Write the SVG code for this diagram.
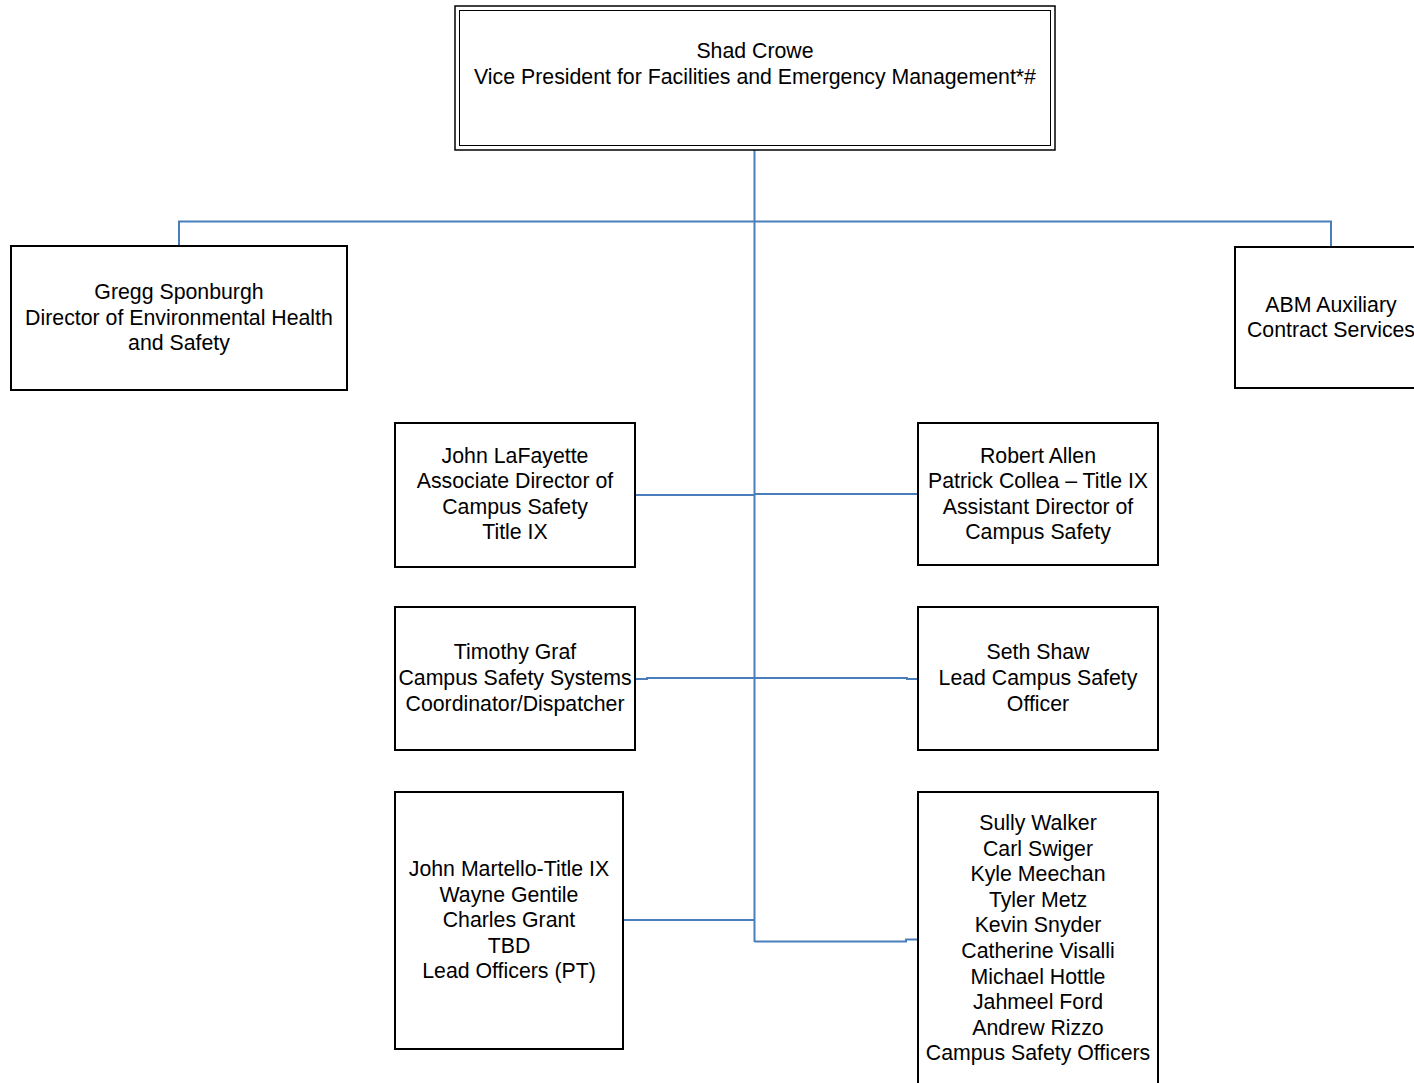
<svg xmlns="http://www.w3.org/2000/svg" width="1414" height="1083" viewBox="0 0 1414 1083">
<style>
.box{fill:#fff;stroke:#000;stroke-width:2}
.t{font-family:"Liberation Sans",Arial,sans-serif;font-size:21.3px;fill:#000;text-anchor:middle}
.c{fill:none;stroke:#4a7ebb;stroke-width:2}
</style>
<rect width="1414" height="1083" fill="#fff"/>
<g id="connectors">
<path class="c" d="M754.5,150 V942"/>
<path class="c" d="M179,246 V221.5 H1331 V247"/>
<path class="c" d="M635,495 H754.5 M754.5,494 H918"/>
<path class="c" d="M635,679 H647 V678 H907 V679 H918"/>
<path class="c" d="M623,920 H754.5"/>
<path class="c" d="M754.5,941.5 H906 V939.5 H918"/>
</g>
<g id="n-shad">
<rect x="455" y="6" width="600" height="144" fill="#fff" stroke="#000" stroke-width="1.5"/>
<rect x="459.5" y="10.5" width="591" height="135" fill="none" stroke="#000" stroke-width="1"/>
<text class="t" x="755" y="58">Shad Crowe</text>
<text class="t" x="755" y="84">Vice President for Facilities and Emergency Management*#</text>
</g>
<g id="n-gregg">
<rect class="box" x="11" y="246" width="336" height="144"/>
<text class="t" x="179" y="299">Gregg Sponburgh</text>
<text class="t" x="179" y="325">Director of Environmental Health</text>
<text class="t" x="179" y="350">and Safety</text>
</g>
<g id="n-abm">
<rect class="box" x="1235" y="247" width="200" height="141"/>
<text class="t" x="1331" y="312">ABM Auxiliary</text>
<text class="t" x="1331" y="337">Contract Services</text>
</g>
<g id="n-lafayette">
<rect class="box" x="395" y="423" width="240" height="144"/>
<text class="t" x="515" y="463">John LaFayette</text>
<text class="t" x="515" y="488">Associate Director of</text>
<text class="t" x="515" y="514">Campus Safety</text>
<text class="t" x="515" y="539">Title IX</text>
</g>
<g id="n-allen">
<rect class="box" x="918" y="423" width="240" height="142"/>
<text class="t" x="1038" y="463">Robert Allen</text>
<text class="t" x="1038" y="488">Patrick Collea – Title IX</text>
<text class="t" x="1038" y="514">Assistant Director of</text>
<text class="t" x="1038" y="539">Campus Safety</text>
</g>
<g id="n-graf">
<rect class="box" x="395" y="607" width="240" height="143"/>
<text class="t" x="515" y="659">Timothy Graf</text>
<text class="t" x="515" y="685">Campus Safety Systems</text>
<text class="t" x="515" y="711">Coordinator/Dispatcher</text>
</g>
<g id="n-shaw">
<rect class="box" x="918" y="607" width="240" height="143"/>
<text class="t" x="1038" y="659">Seth Shaw</text>
<text class="t" x="1038" y="685">Lead Campus Safety</text>
<text class="t" x="1038" y="711">Officer</text>
</g>
<g id="n-martello">
<rect class="box" x="395" y="792" width="228" height="257"/>
<text class="t" x="509" y="876">John Martello-Title IX</text>
<text class="t" x="509" y="902">Wayne Gentile</text>
<text class="t" x="509" y="927">Charles Grant</text>
<text class="t" x="509" y="953">TBD</text>
<text class="t" x="509" y="978">Lead Officers (PT)</text>
</g>
<g id="n-officers">
<rect class="box" x="918" y="792" width="240" height="300"/>
<text class="t" x="1038" y="830">Sully Walker</text>
<text class="t" x="1038" y="856">Carl Swiger</text>
<text class="t" x="1038" y="881">Kyle Meechan</text>
<text class="t" x="1038" y="907">Tyler Metz</text>
<text class="t" x="1038" y="932">Kevin Snyder</text>
<text class="t" x="1038" y="958">Catherine Visalli</text>
<text class="t" x="1038" y="984">Michael Hottle</text>
<text class="t" x="1038" y="1009">Jahmeel Ford</text>
<text class="t" x="1038" y="1035">Andrew Rizzo</text>
<text class="t" x="1038" y="1060">Campus Safety Officers</text>
</g>
</svg>
